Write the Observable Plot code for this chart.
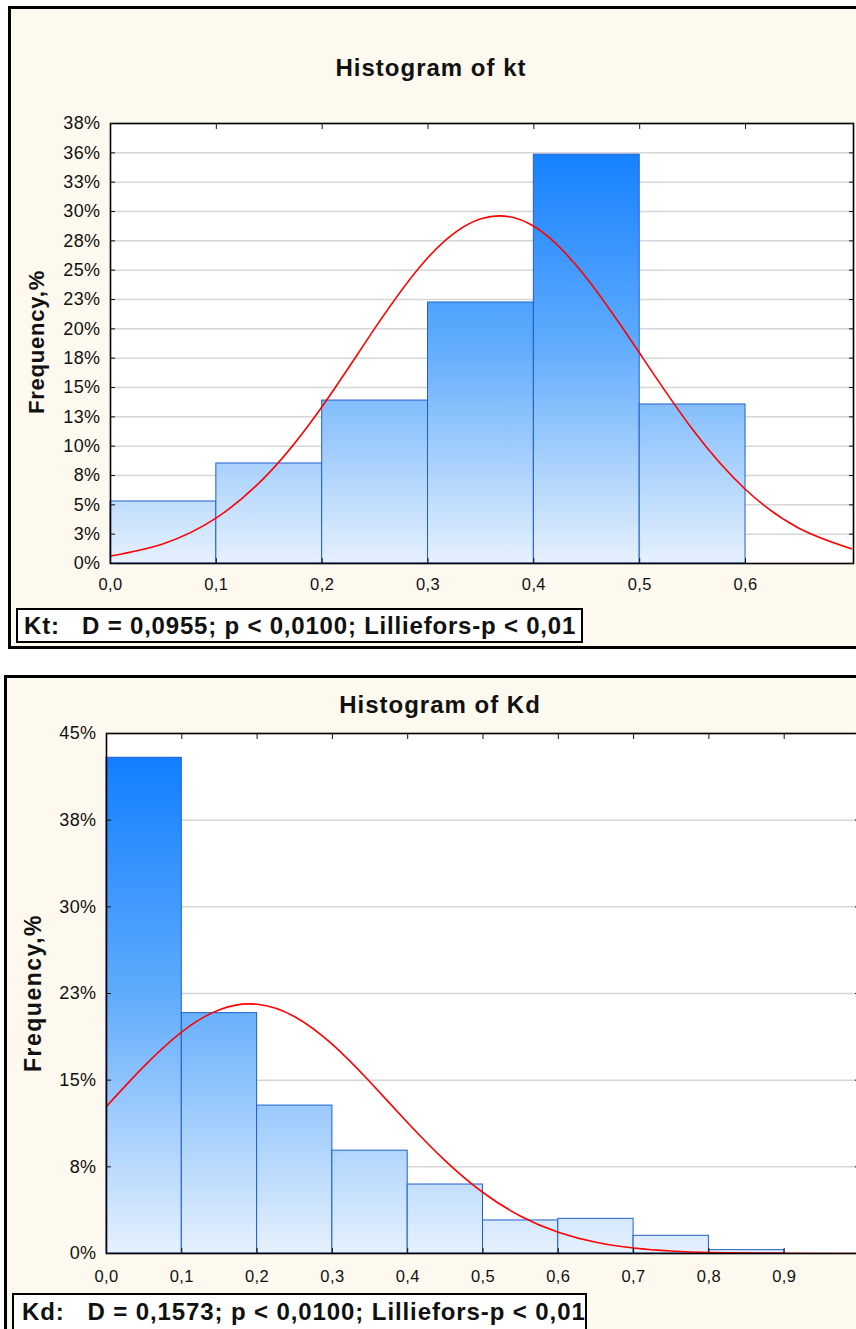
<!DOCTYPE html>
<html>
<head>
<meta charset="utf-8">
<script src="https://cdn.jsdelivr.net/npm/d3@7"></script>
<script src="https://cdn.jsdelivr.net/npm/@observablehq/plot@0.6"></script>
<style>
html,body{margin:0;padding:0;background:#fff;}
#page{position:relative;width:856px;height:1329px;overflow:hidden;background:#fff;font-family:"Liberation Sans",Arial,sans-serif;}
.panel{position:absolute;box-sizing:border-box;border:3px solid #000;background:#fdf9ee;}
.title{position:absolute;font-weight:bold;font-size:24px;letter-spacing:1px;color:#111;transform:translateX(-50%);white-space:nowrap;line-height:1;}
.ylab{position:absolute;font-weight:bold;color:#111;white-space:nowrap;transform:translate(-50%,-50%) rotate(-90deg);line-height:1;}
.stats{position:absolute;box-sizing:border-box;border:2.5px solid #000;background:#fff;font-weight:bold;white-space:pre;color:#111;line-height:1;}
.chart{position:absolute;left:0;}
</style>
</head>
<body>
<div id="page">
  <div class="panel" style="left:8px;top:6px;width:900px;height:643px;"></div>
  <div class="panel" style="left:4px;top:675px;width:900px;height:700px;"></div>
  <div class="title" style="left:431px;top:56px;">Histogram of kt</div>
  <div class="title" style="left:440px;top:693px;">Histogram of Kd</div>
  <div class="ylab" style="left:36.5px;top:342px;font-size:22px;letter-spacing:0.8px;">Frequency,%</div>
  <div class="ylab" style="left:32.5px;top:993px;font-size:23px;letter-spacing:1.5px;">Frequency,%</div>
  <div id="chartKt" class="chart" style="top:0px;"></div>
  <div id="chartKd" class="chart" style="top:640px;"></div>
  <div class="stats" style="left:16px;top:608px;width:567px;height:35px;font-size:24px;letter-spacing:0.8px;padding:3.5px 0 0 6px;">Kt:   D = 0,0955; p &lt; 0,0100; Lilliefors-p &lt; 0,01</div>
  <div class="stats" style="left:12px;top:1293px;width:575px;height:40px;font-size:24px;letter-spacing:0.9px;padding:5px 0 0 8px;">Kd:   D = 0,1573; p &lt; 0,0100; Lilliefors-p &lt; 0,01</div>
</div>
<script>
// ---------- Kt histogram data ----------
const ktBinStart = [0.0, 0.1, 0.2, 0.3, 0.4, 0.5];
const ktBinEnd   = [0.1, 0.2, 0.3, 0.4, 0.5, 0.6];
const ktFreq     = [5.37, 8.66, 14.11, 22.6, 35.4, 13.77];
const ktCurveX   = [0, 0.05, 0.1, 0.15, 0.2, 0.25, 0.3, 0.35, 0.4, 0.45, 0.5, 0.55, 0.6, 0.65, 0.7];
const ktCurveY   = [0.65, 1.72, 3.95, 7.87, 13.6, 20.4, 26.5, 29.85, 29.2, 24.7, 18.2, 11.6, 6.41, 3.08, 1.28];
const ktYTicks   = [0, 2.54, 5.08, 7.62, 10.16, 12.7, 15.24, 17.78, 20.32, 22.86, 25.4, 27.94, 30.48, 33.02, 35.56, 38.1];
const ktYLabels  = ["0%","3%","5%","8%","10%","13%","15%","18%","20%","23%","25%","28%","30%","33%","36%","38%"];
const ktXTicks   = [0, 0.1, 0.2, 0.3, 0.4, 0.5, 0.6];
const ktXLabels  = ["0,0","0,1","0,2","0,3","0,4","0,5","0,6"];
const ktXTopTicks = [0.1, 0.2, 0.3, 0.4, 0.5, 0.6];

// ---------- Kd histogram data ----------
const kdBinStart = [0.0, 0.1, 0.2, 0.3, 0.4, 0.5, 0.6, 0.7, 0.8];
const kdBinEnd   = [0.1, 0.2, 0.3, 0.4, 0.5, 0.6, 0.7, 0.8, 0.9];
const kdFreq     = [42.9, 20.8, 12.8, 8.9, 5.97, 2.86, 3.0, 1.53, 0.29];
const kdCurveX   = [0, 0.05, 0.1, 0.15, 0.2, 0.25, 0.3, 0.35, 0.4, 0.45, 0.5, 0.55, 0.6, 0.65, 0.7, 0.75, 0.8, 0.85, 0.9, 0.95, 1.0];
const kdCurveY   = [12.73, 16.21, 19.18, 21.1, 21.57, 20.49, 18.09, 14.84, 11.32, 8.02, 5.28, 3.23, 1.84, 0.97, 0.48, 0.22, 0.09, 0.04, 0.013, 0.005, 0.001];
const kdYTicks   = [0, 7.5, 15, 22.5, 30, 37.5, 45];
const kdYLabels  = ["0%","8%","15%","23%","30%","38%","45%"];
const kdXTicks   = [0, 0.1, 0.2, 0.3, 0.4, 0.5, 0.6, 0.7, 0.8, 0.9];
const kdXLabels  = ["0,0","0,1","0,2","0,3","0,4","0,5","0,6","0,7","0,8","0,9"];
const kdXTopTicks = [0.1, 0.2, 0.3, 0.4, 0.5, 0.6, 0.7, 0.8, 0.9];

function makeChart(cfg) {
  const bins = cfg.freq.map((f, i) => ({x1: cfg.start[i], x2: cfg.end[i], y: f}));
  const curve = cfg.curveX.map((x, i) => ({x, y: cfg.curveY[i]}));
  const yMap = new Map(cfg.yTicks.map((t, i) => [t, cfg.yLabels[i]]));
  const xMap = new Map(cfg.xTicks.map((t, i) => [t, cfg.xLabels[i]]));
  const svg = Plot.plot({
    width: cfg.width,
    height: cfg.height,
    marginLeft: cfg.ml, marginRight: cfg.mr, marginTop: cfg.mt, marginBottom: cfg.mb,
    style: {background: "transparent", overflow: "visible", maxWidth: "none", fontFamily: "'Liberation Sans', Arial, sans-serif", fontSize: "16px", color: "#111", letterSpacing: "0.4px"},
    x: {domain: cfg.xDomain, label: null},
    y: {domain: cfg.yDomain, label: null},
    marks: [
      Plot.frame({fill: "white", stroke: null}),
      Plot.gridY(cfg.yTicks, {stroke: "#d6d6d6", strokeOpacity: 1, strokeWidth: 1.5}),
      Plot.rectY(bins, {x1: "x1", x2: "x2", y: "y", fill: `url(#${cfg.id})`, stroke: "#1f5fcf", strokeWidth: 1, inset: 0}),
      Plot.line(curve, {x: "x", y: "y", stroke: "#ff0000", strokeWidth: 1.6, curve: "natural", clip: true}),
      Plot.frame({stroke: "#000", strokeWidth: 1.6}),
      Plot.axisY(cfg.yTicks, {anchor: "left", tickSize: -5, tickPadding: 15, tickFormat: d => yMap.get(d), label: null, fontSize: 18}),
      Plot.axisY(cfg.yTicks, {anchor: "right", tickSize: -5, tickFormat: () => "", label: null}),
      Plot.axisX(cfg.xTicks, {anchor: "bottom", tickSize: -5, tickPadding: cfg.xPad, tickFormat: d => xMap.get(d), label: null, fontSize: 16.5}),
      Plot.axisX(cfg.xTopTicks, {anchor: "top", tickSize: -5, tickFormat: () => "", label: null})
    ]
  });
  const top = cfg.mt, bottom = cfg.height - cfg.mb;
  const grad = d3.select(svg).insert("defs", ":first-child")
    .append("linearGradient").attr("id", cfg.id)
    .attr("gradientUnits", "userSpaceOnUse")
    .attr("x1", 0).attr("x2", 0).attr("y1", top).attr("y2", bottom);
  grad.append("stop").attr("offset", "0").attr("stop-color", "#0a7aff");
  grad.append("stop").attr("offset", "0.5").attr("stop-color", "#5fabfc");
  grad.append("stop").attr("offset", "1").attr("stop-color", "#e6f1fd");
  return svg;
}

document.getElementById("chartKt").appendChild(makeChart({
  id: "gradKt", start: ktBinStart, end: ktBinEnd, freq: ktFreq,
  curveX: ktCurveX, curveY: ktCurveY, yTicks: ktYTicks, yLabels: ktYLabels,
  xTicks: ktXTicks, xLabels: ktXLabels, xTopTicks: ktXTopTicks,
  width: 870, height: 615, ml: 110, mr: 17, mt: 123, mb: 52,
  xDomain: [0, 0.702], yDomain: [0, 38.1], xPad: 20
}));

document.getElementById("chartKd").appendChild(makeChart({
  id: "gradKd", start: kdBinStart, end: kdBinEnd, freq: kdFreq,
  curveX: kdCurveX, curveY: kdCurveY, yTicks: kdYTicks, yLabels: kdYLabels,
  xTicks: kdXTicks, xLabels: kdXLabels, xTopTicks: kdXTopTicks,
  width: 880, height: 670, ml: 106, mr: 21, mt: 93, mb: 57,
  xDomain: [0, 1.0], yDomain: [0, 45], xPad: 22
}));
</script>
</body>
</html>
